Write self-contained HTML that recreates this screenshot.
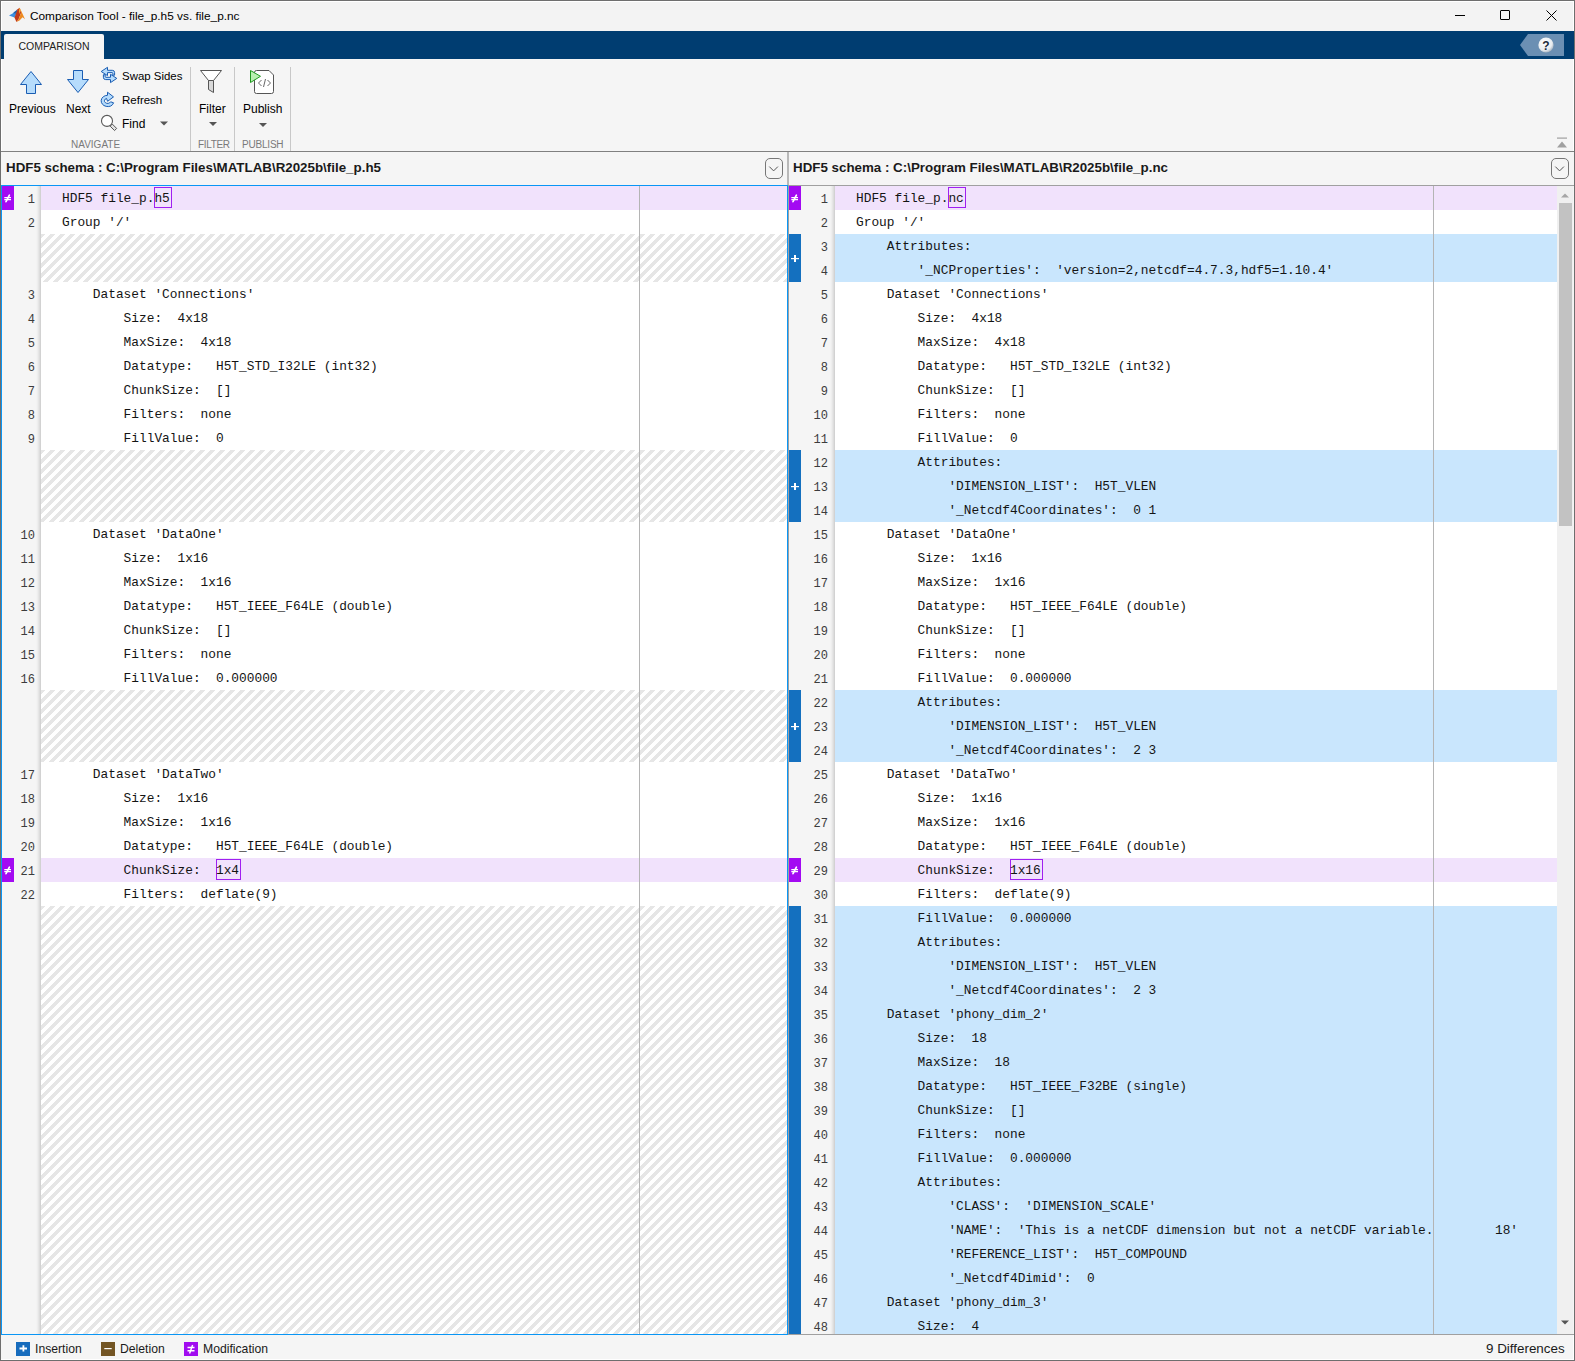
<!DOCTYPE html>
<html><head><meta charset="utf-8"><title>Comparison Tool</title>
<style>
*{margin:0;padding:0;box-sizing:border-box}
html,body{width:1575px;height:1361px;overflow:hidden;background:#f5f5f5}
body{position:relative;font-family:"Liberation Sans",sans-serif;color:#000}
.a{position:absolute}
#win{position:absolute;left:0;top:0;width:1575px;height:1361px;border:1px solid #6e6e6e;background:#f5f5f5}
#title{position:absolute;left:1px;top:1px;width:1573px;height:30px;background:#f3f3f3}
#title .t{position:absolute;left:29px;top:8px;font-size:11.83px;color:#000;white-space:nowrap}
#strip{position:absolute;left:1px;top:31px;width:1573px;height:28px;background:#003d71}
#tab{position:absolute;left:4px;top:34px;width:100px;height:25px;background:#f5f5f5;border-radius:2px 2px 0 0;font-size:10.5px;color:#222;text-align:center;line-height:24px}
#tb{position:absolute;left:1px;top:59px;width:1573px;height:92px;background:#f5f5f5}
#tbline{position:absolute;left:1px;top:151px;width:1573px;height:1px;background:#808080}
.tbt{position:absolute;font-size:12px;color:#000;white-space:nowrap}
.sec{position:absolute;font-size:10px;color:#7a7a7a;white-space:nowrap;top:139px}
.vsep{position:absolute;top:67px;width:1px;height:84px;background:#c8c8c8}
.hdr{position:absolute;top:152px;height:33px;background:#f5f5f5}
.hdr .t{position:absolute;left:5px;top:8px;font-weight:bold;font-size:13.35px;white-space:nowrap;color:#1a1a1a}
.dd{top:158px}
.gut{position:absolute;top:186px;height:1148px;background:#f5f5f5}
.gsh{position:absolute;top:186px;height:1148px;width:5px;background:linear-gradient(to right,#f3f3f3 0 1px,#eeeeee 1px 2px,#e6e6e6 2px 3px,#dddddd 3px 4px,#d2d2d2 4px 5px)}
.txt{position:absolute;top:186px;height:1148px;background:#fff}
.hatch{position:absolute;background:repeating-linear-gradient(135deg,#e6e6e6 0px,#e6e6e6 2.83px,#fff 2.83px,#fff 6.58px,#e6e6e6 6.58px,#e6e6e6 7.0711px)}
.rowbg{position:absolute;height:24px}
.rowbg.mod{background:#f1e2fc}
.rowbg.ins{background:#c9e6fd}
.ln{position:absolute;height:24px;line-height:29px;text-align:right;font-family:"Liberation Mono",monospace;font-size:12px;color:#3c3c3c}
.code{position:absolute;height:24px;line-height:26px;font-family:"Liberation Mono",monospace;font-size:12.83px;white-space:pre;color:#141414}
.box{position:absolute;height:21px;border:1px solid #a020f0}
.mk{position:absolute;width:12px}
.mk.mod{background:#a30af2}
.mk.ins{background:#1470bf}
.guide{position:absolute;top:186px;height:1148px;width:1px;background:#b4b4b4}
#status{position:absolute;left:1px;top:1335px;width:1573px;height:24px;background:#f5f5f5}
.st{position:absolute;top:1342px;font-size:12.2px;color:#1a1a1a;white-space:nowrap}
.sti{position:absolute;top:1342px;width:14px;height:14px}
.sti svg{display:block}
.tbt.sm{font-size:11.45px}

.clip{position:absolute;top:186px;height:1148px;overflow:hidden}

</style></head>
<body>
<div id="win"></div>
<div id="title">
  <svg class="a" style="left:-1px;top:-1px" width="30" height="30" viewBox="0 0 30 30">
    <path d="M9 15.6 L13 13.2 L15.2 11.2 L17 12.8 L14.5 17.6 Z" fill="#3a8ee0"/>
    <path d="M13 13.2 L15.2 11.2 L17.6 9.2 L16.5 13.5 Z" fill="#1f5fa8"/>
    <path d="M14.5 17.6 L17.6 9.2 L19.6 7.8 L21.2 12.5 L18.5 19.5 L16.4 22 Z" fill="#c0391a"/>
    <path d="M19.6 7.8 L21.5 11.5 L25 19.2 L22.6 17.2 L19.5 20.5 L16.4 22 L18.5 19.5 L21.2 12.5 Z" fill="#ee8a1e"/>
    <path d="M19.6 7.8 L20.6 10.2 L19.8 14 L18.8 11 Z" fill="#f5b030"/>
  </svg>
  <div class="t">Comparison Tool - file_p.h5 vs. file_p.nc</div>
  <div class="a" style="left:1454px;top:14px;width:10px;height:1px;background:#000"></div>
  <div class="a" style="left:1499px;top:9px;width:10px;height:10px;border:1px solid #000;border-radius:1px"></div>
  <svg class="a" style="left:1545px;top:9px" width="11" height="11" viewBox="0 0 11 11"><path d="M0.5 0.5 L10.5 10.5 M10.5 0.5 L0.5 10.5" stroke="#000" stroke-width="1"/></svg>
</div>
<div id="strip"></div>
<div id="tab">COMPARISON</div>
<svg class="a" style="left:1520px;top:34px" width="45" height="23" viewBox="0 0 45 23">
  <path d="M8 0 H44 V22 H8 L0 11 Z" fill="#6b8fb3"/>
  <defs><radialGradient id="hg" cx="0.4" cy="0.35" r="0.7"><stop offset="0" stop-color="#ffffff"/><stop offset="0.7" stop-color="#e8ecf0"/><stop offset="1" stop-color="#9aa8b6"/></radialGradient></defs>
  <circle cx="26" cy="11" r="7.6" fill="url(#hg)"/>
  <text x="26" y="15.5" text-anchor="middle" font-family="Liberation Sans" font-weight="bold" font-size="12" fill="#1d2b3c">?</text>
</svg>
<div id="tb"></div>
<div id="tbline"></div>
<!-- toolbar icons -->
<svg class="a" style="left:0;top:59px" width="300" height="92" viewBox="0 59 300 92">
  <!-- up arrow -->
  <path d="M31 71.5 L41.5 84.5 L35.5 84.5 L35.5 93.5 L26.5 93.5 L26.5 84.5 L20.5 84.5 Z" fill="#b6dcfc" stroke="#1a5db3" stroke-width="1" stroke-linejoin="miter"/>
  <!-- down arrow -->
  <path d="M73.5 70.5 L82.5 70.5 L82.5 79.5 L88.5 79.5 L78 92.5 L67.5 79.5 L73.5 79.5 Z" fill="#b6dcfc" stroke="#1a5db3" stroke-width="1"/>
  <!-- swap -->
  <path id="sw" d="M101.2 71.5 L107.5 67.3 L107.5 70.3 L112.3 70.3 Q114.6 70.3 114.6 72.6 L114.6 75.2 L112.8 75.2 L112.8 73.3 Q112.8 72.6 112.1 72.6 L107.5 72.6 L107.5 75.6 Z" fill="#b6dcfc" stroke="#1a5db3" stroke-width="1" stroke-linejoin="miter"/>
  <path d="M101.2 71.5 L107.5 67.3 L107.5 70.3 L112.3 70.3 Q114.6 70.3 114.6 72.6 L114.6 75.2 L112.8 75.2 L112.8 73.3 Q112.8 72.6 112.1 72.6 L107.5 72.6 L107.5 75.6 Z" transform="rotate(180 109 74.95)" fill="#b6dcfc" stroke="#1a5db3" stroke-width="1" stroke-linejoin="miter"/>
  <!-- refresh -->
  <path d="M107.5 92.2 L113.5 96.9 L107.6 101.3 L106.5 98.4 A3.2 2.6 0 1 0 110.6 101.8 L113.6 102.8 A6.4 5.6 0 1 1 107.5 95.3 Z" fill="#b6dcfc" stroke="#1a5db3" stroke-width="1" stroke-linejoin="round"/>
  <!-- find -->
  <path d="M112.26 124.04 L116.66 128.44 L114.54 130.56 L110.14 126.16 Z" fill="#e2e2e2" stroke="#555" stroke-width="1"/>
  <circle cx="107" cy="120.9" r="5.5" fill="#fff" stroke="#5a5a5a" stroke-width="1.1"/>
  <path d="M160 121.5 L168 121.5 L164 125.5 Z" fill="#555"/>
  <!-- filter -->
  <path d="M200.5 70.5 L221.5 70.5 L213.5 80.5 L208.5 80.5 Z" fill="#fff" stroke="#555" stroke-width="1" stroke-linejoin="round"/>
  <path d="M208.5 80.5 L213.5 80.5 L213.5 92.5 L208.5 89.5 Z" fill="#d8d8d8" stroke="#555" stroke-width="1" stroke-linejoin="round"/>
  <path d="M209 122 L217 122 L213 126 Z" fill="#555"/>
  <!-- publish -->
  <path d="M256.5 70.5 L269 70.5 L273.5 75 L273.5 91.5 Q273.5 93.5 271.5 93.5 L256.5 93.5 Q254.5 93.5 254.5 91.5 L254.5 72.5 Q254.5 70.5 256.5 70.5 Z" fill="#fff" stroke="#555" stroke-width="1"/>
  <path d="M261.5 80 L258.5 83 L261.5 86 M267.5 80 L270.5 83 L267.5 86 M265.5 79 L263.5 87" fill="none" stroke="#555" stroke-width="0.9"/>
  <path d="M250.5 70.5 L260.5 76.3 L250.5 82.5 Z" fill="#b8f0b0" stroke="#1e9a1e" stroke-width="1" stroke-linejoin="miter"/>
  <path d="M259 123 L267 123 L263 127 Z" fill="#555"/>
  <!-- collapse -->
  <path d="M1557 138.5 L1567 138.5" stroke="#a0a0a0" stroke-width="1"/>
</svg>
<svg class="a" style="left:1555px;top:136px" width="14" height="14" viewBox="0 0 14 14">
  <rect x="2" y="1.5" width="10" height="1.2" fill="#a0a0a0"/>
  <path d="M2 11.5 L12 11.5 L7 5.5 Z" fill="#a0a0a0"/>
</svg>
<!-- toolbar text -->
<div class="tbt" style="left:9px;top:102px">Previous</div>
<div class="tbt" style="left:66px;top:102px">Next</div>
<div class="tbt sm" style="left:122px;top:70px">Swap Sides</div>
<div class="tbt" style="left:122px;top:93.5px;font-size:11.5px">Refresh</div>
<div class="tbt" style="left:122px;top:117px">Find</div>
<div class="tbt" style="left:199px;top:102px">Filter</div>
<div class="tbt" style="left:243px;top:102px">Publish</div>
<div class="sec" style="left:71px">NAVIGATE</div>
<div class="sec" style="left:198px;letter-spacing:-0.35px">FILTER</div>
<div class="sec" style="left:242px;letter-spacing:-0.2px">PUBLISH</div>
<div class="vsep" style="left:190px"></div>
<div class="vsep" style="left:234px"></div>
<div class="vsep" style="left:290px"></div>
<!-- headers -->
<div class="hdr" style="left:1px;width:786px"><div class="t">HDF5 schema : C:\Program Files\MATLAB\R2025b\file_p.h5</div></div>
<div class="hdr" style="left:789px;width:784px"><div class="t" style="left:4px">HDF5 schema : C:\Program Files\MATLAB\R2025b\file_p.nc</div></div>
<svg class="a dd" style="left:765px" width="18" height="21" viewBox="0 0 18 21"><rect x="0.5" y="0.5" width="17" height="20" rx="4.5" fill="#f5f5f5" stroke="#777"/><path d="M4.3 8.6 L8.6 12.9 L12.9 8.6" fill="none" stroke="#555" stroke-width="1"/></svg>
<svg class="a dd" style="left:1551px" width="18" height="21" viewBox="0 0 18 21"><rect x="0.5" y="0.5" width="17" height="20" rx="4.5" fill="#f5f5f5" stroke="#777"/><path d="M4.3 8.6 L8.6 12.9 L12.9 8.6" fill="none" stroke="#555" stroke-width="1"/></svg>
<div class="a" style="left:787px;top:152px;width:2px;height:33px;background:#b9b9b9"></div>
<!-- left pane -->
<div class="a" style="left:1px;top:185px;width:787px;height:1150px;border:1px solid #0a96f5"></div>
<div class="gut" style="left:2px;width:39px"></div>
<div class="gsh" style="left:36px"></div>
<div class="txt" style="left:41px;width:746px"></div>
<div class="a" style="left:788px;top:185px;width:1px;height:1150px;background:#a0a0a0"></div>
<!-- right pane -->
<div class="a" style="left:789px;top:185px;width:785px;height:1px;background:#a0a0a0"></div>
<div class="a" style="left:789px;top:1334px;width:785px;height:1px;background:#a0a0a0"></div>
<div class="gut" style="left:789px;width:46px"></div>
<div class="gsh" style="left:830px"></div>
<div class="txt" style="left:835px;width:722px"></div>
<div class="a" style="left:1557px;top:186px;width:16px;height:1148px;background:#f0f0f0"></div>
<div class="a" style="left:1559px;top:203px;width:13px;height:323px;background:#c2c2c2"></div>
<svg class="a" style="left:1557px;top:190px" width="16" height="10" viewBox="0 0 16 10"><path d="M4 7.5 L12 7.5 L8 3.5 Z" fill="#a6a6a6"/></svg>
<svg class="a" style="left:1557px;top:1318px" width="16" height="10" viewBox="0 0 16 10"><path d="M4 2.5 L12 2.5 L8 6.5 Z" fill="#555"/></svg>
<div class="clip" style="left:2px;width:785px"><div class="a" style="left:-2px;top:-186px"><div class="rowbg mod" style="top:186px;left:41px;width:746px"></div>
<div class="ln" style="top:186px;left:2px;width:33px">1</div>
<div class="box" style="left:154px;top:187px;width:18px"></div>
<div class="code" style="top:186px;left:62.00px">HDF5 file_p.h5</div>
<div class="ln" style="top:210px;left:2px;width:33px">2</div>
<div class="code" style="top:210px;left:62.00px">Group &#x27;/&#x27;</div>
<div class="hatch" style="top:234px;height:48px;left:41px;width:746px"></div>
<div class="ln" style="top:282px;left:2px;width:33px">3</div>
<div class="code" style="top:282px;left:92.80px">Dataset &#x27;Connections&#x27;</div>
<div class="ln" style="top:306px;left:2px;width:33px">4</div>
<div class="code" style="top:306px;left:123.60px">Size:  4x18</div>
<div class="ln" style="top:330px;left:2px;width:33px">5</div>
<div class="code" style="top:330px;left:123.60px">MaxSize:  4x18</div>
<div class="ln" style="top:354px;left:2px;width:33px">6</div>
<div class="code" style="top:354px;left:123.60px">Datatype:   H5T_STD_I32LE (int32)</div>
<div class="ln" style="top:378px;left:2px;width:33px">7</div>
<div class="code" style="top:378px;left:123.60px">ChunkSize:  []</div>
<div class="ln" style="top:402px;left:2px;width:33px">8</div>
<div class="code" style="top:402px;left:123.60px">Filters:  none</div>
<div class="ln" style="top:426px;left:2px;width:33px">9</div>
<div class="code" style="top:426px;left:123.60px">FillValue:  0</div>
<div class="hatch" style="top:450px;height:72px;left:41px;width:746px"></div>
<div class="ln" style="top:522px;left:2px;width:33px">10</div>
<div class="code" style="top:522px;left:92.80px">Dataset &#x27;DataOne&#x27;</div>
<div class="ln" style="top:546px;left:2px;width:33px">11</div>
<div class="code" style="top:546px;left:123.60px">Size:  1x16</div>
<div class="ln" style="top:570px;left:2px;width:33px">12</div>
<div class="code" style="top:570px;left:123.60px">MaxSize:  1x16</div>
<div class="ln" style="top:594px;left:2px;width:33px">13</div>
<div class="code" style="top:594px;left:123.60px">Datatype:   H5T_IEEE_F64LE (double)</div>
<div class="ln" style="top:618px;left:2px;width:33px">14</div>
<div class="code" style="top:618px;left:123.60px">ChunkSize:  []</div>
<div class="ln" style="top:642px;left:2px;width:33px">15</div>
<div class="code" style="top:642px;left:123.60px">Filters:  none</div>
<div class="ln" style="top:666px;left:2px;width:33px">16</div>
<div class="code" style="top:666px;left:123.60px">FillValue:  0.000000</div>
<div class="hatch" style="top:690px;height:72px;left:41px;width:746px"></div>
<div class="ln" style="top:762px;left:2px;width:33px">17</div>
<div class="code" style="top:762px;left:92.80px">Dataset &#x27;DataTwo&#x27;</div>
<div class="ln" style="top:786px;left:2px;width:33px">18</div>
<div class="code" style="top:786px;left:123.60px">Size:  1x16</div>
<div class="ln" style="top:810px;left:2px;width:33px">19</div>
<div class="code" style="top:810px;left:123.60px">MaxSize:  1x16</div>
<div class="ln" style="top:834px;left:2px;width:33px">20</div>
<div class="code" style="top:834px;left:123.60px">Datatype:   H5T_IEEE_F64LE (double)</div>
<div class="rowbg mod" style="top:858px;left:41px;width:746px"></div>
<div class="ln" style="top:858px;left:2px;width:33px">21</div>
<div class="box" style="left:216px;top:859px;width:25px"></div>
<div class="code" style="top:858px;left:123.60px">ChunkSize:  1x4</div>
<div class="ln" style="top:882px;left:2px;width:33px">22</div>
<div class="code" style="top:882px;left:123.60px">Filters:  deflate(9)</div>
<div class="hatch" style="top:906px;height:480px;left:41px;width:746px"></div>
<div class="mk mod" style="top:186px;left:2px;height:24px"><svg class="a" style="left:0;top:0px" width="12" height="24" viewBox="0 0 12 24"><path d="M2.3 11.6 H9 M2.3 13.6 H9" stroke="#fff" stroke-width="1.15"/><path d="M7.4 9.2 L4 15.7" stroke="#fff" stroke-width="1.7" stroke-linecap="round"/></svg></div>
<div class="mk mod" style="top:858px;left:2px;height:24px"><svg class="a" style="left:0;top:0px" width="12" height="24" viewBox="0 0 12 24"><path d="M2.3 11.6 H9 M2.3 13.6 H9" stroke="#fff" stroke-width="1.15"/><path d="M7.4 9.2 L4 15.7" stroke="#fff" stroke-width="1.7" stroke-linecap="round"/></svg></div></div></div>
<div class="clip" style="left:789px;width:768px"><div class="a" style="left:-789px;top:-186px"><div class="rowbg mod" style="top:186px;left:835px;width:722px"></div>
<div class="ln" style="top:186px;left:789px;width:39px">1</div>
<div class="box" style="left:948px;top:187px;width:18px"></div>
<div class="code" style="top:186px;left:856.00px">HDF5 file_p.nc</div>
<div class="ln" style="top:210px;left:789px;width:39px">2</div>
<div class="code" style="top:210px;left:856.00px">Group &#x27;/&#x27;</div>
<div class="rowbg ins" style="top:234px;left:835px;width:722px"></div>
<div class="ln" style="top:234px;left:789px;width:39px">3</div>
<div class="code" style="top:234px;left:886.80px">Attributes:</div>
<div class="rowbg ins" style="top:258px;left:835px;width:722px"></div>
<div class="ln" style="top:258px;left:789px;width:39px">4</div>
<div class="code" style="top:258px;left:917.60px">&#x27;_NCProperties&#x27;:  &#x27;version=2,netcdf=4.7.3,hdf5=1.10.4&#x27;</div>
<div class="ln" style="top:282px;left:789px;width:39px">5</div>
<div class="code" style="top:282px;left:886.80px">Dataset &#x27;Connections&#x27;</div>
<div class="ln" style="top:306px;left:789px;width:39px">6</div>
<div class="code" style="top:306px;left:917.60px">Size:  4x18</div>
<div class="ln" style="top:330px;left:789px;width:39px">7</div>
<div class="code" style="top:330px;left:917.60px">MaxSize:  4x18</div>
<div class="ln" style="top:354px;left:789px;width:39px">8</div>
<div class="code" style="top:354px;left:917.60px">Datatype:   H5T_STD_I32LE (int32)</div>
<div class="ln" style="top:378px;left:789px;width:39px">9</div>
<div class="code" style="top:378px;left:917.60px">ChunkSize:  []</div>
<div class="ln" style="top:402px;left:789px;width:39px">10</div>
<div class="code" style="top:402px;left:917.60px">Filters:  none</div>
<div class="ln" style="top:426px;left:789px;width:39px">11</div>
<div class="code" style="top:426px;left:917.60px">FillValue:  0</div>
<div class="rowbg ins" style="top:450px;left:835px;width:722px"></div>
<div class="ln" style="top:450px;left:789px;width:39px">12</div>
<div class="code" style="top:450px;left:917.60px">Attributes:</div>
<div class="rowbg ins" style="top:474px;left:835px;width:722px"></div>
<div class="ln" style="top:474px;left:789px;width:39px">13</div>
<div class="code" style="top:474px;left:948.40px">&#x27;DIMENSION_LIST&#x27;:  H5T_VLEN</div>
<div class="rowbg ins" style="top:498px;left:835px;width:722px"></div>
<div class="ln" style="top:498px;left:789px;width:39px">14</div>
<div class="code" style="top:498px;left:948.40px">&#x27;_Netcdf4Coordinates&#x27;:  0 1</div>
<div class="ln" style="top:522px;left:789px;width:39px">15</div>
<div class="code" style="top:522px;left:886.80px">Dataset &#x27;DataOne&#x27;</div>
<div class="ln" style="top:546px;left:789px;width:39px">16</div>
<div class="code" style="top:546px;left:917.60px">Size:  1x16</div>
<div class="ln" style="top:570px;left:789px;width:39px">17</div>
<div class="code" style="top:570px;left:917.60px">MaxSize:  1x16</div>
<div class="ln" style="top:594px;left:789px;width:39px">18</div>
<div class="code" style="top:594px;left:917.60px">Datatype:   H5T_IEEE_F64LE (double)</div>
<div class="ln" style="top:618px;left:789px;width:39px">19</div>
<div class="code" style="top:618px;left:917.60px">ChunkSize:  []</div>
<div class="ln" style="top:642px;left:789px;width:39px">20</div>
<div class="code" style="top:642px;left:917.60px">Filters:  none</div>
<div class="ln" style="top:666px;left:789px;width:39px">21</div>
<div class="code" style="top:666px;left:917.60px">FillValue:  0.000000</div>
<div class="rowbg ins" style="top:690px;left:835px;width:722px"></div>
<div class="ln" style="top:690px;left:789px;width:39px">22</div>
<div class="code" style="top:690px;left:917.60px">Attributes:</div>
<div class="rowbg ins" style="top:714px;left:835px;width:722px"></div>
<div class="ln" style="top:714px;left:789px;width:39px">23</div>
<div class="code" style="top:714px;left:948.40px">&#x27;DIMENSION_LIST&#x27;:  H5T_VLEN</div>
<div class="rowbg ins" style="top:738px;left:835px;width:722px"></div>
<div class="ln" style="top:738px;left:789px;width:39px">24</div>
<div class="code" style="top:738px;left:948.40px">&#x27;_Netcdf4Coordinates&#x27;:  2 3</div>
<div class="ln" style="top:762px;left:789px;width:39px">25</div>
<div class="code" style="top:762px;left:886.80px">Dataset &#x27;DataTwo&#x27;</div>
<div class="ln" style="top:786px;left:789px;width:39px">26</div>
<div class="code" style="top:786px;left:917.60px">Size:  1x16</div>
<div class="ln" style="top:810px;left:789px;width:39px">27</div>
<div class="code" style="top:810px;left:917.60px">MaxSize:  1x16</div>
<div class="ln" style="top:834px;left:789px;width:39px">28</div>
<div class="code" style="top:834px;left:917.60px">Datatype:   H5T_IEEE_F64LE (double)</div>
<div class="rowbg mod" style="top:858px;left:835px;width:722px"></div>
<div class="ln" style="top:858px;left:789px;width:39px">29</div>
<div class="box" style="left:1010px;top:859px;width:33px"></div>
<div class="code" style="top:858px;left:917.60px">ChunkSize:  1x16</div>
<div class="ln" style="top:882px;left:789px;width:39px">30</div>
<div class="code" style="top:882px;left:917.60px">Filters:  deflate(9)</div>
<div class="rowbg ins" style="top:906px;left:835px;width:722px"></div>
<div class="ln" style="top:906px;left:789px;width:39px">31</div>
<div class="code" style="top:906px;left:917.60px">FillValue:  0.000000</div>
<div class="rowbg ins" style="top:930px;left:835px;width:722px"></div>
<div class="ln" style="top:930px;left:789px;width:39px">32</div>
<div class="code" style="top:930px;left:917.60px">Attributes:</div>
<div class="rowbg ins" style="top:954px;left:835px;width:722px"></div>
<div class="ln" style="top:954px;left:789px;width:39px">33</div>
<div class="code" style="top:954px;left:948.40px">&#x27;DIMENSION_LIST&#x27;:  H5T_VLEN</div>
<div class="rowbg ins" style="top:978px;left:835px;width:722px"></div>
<div class="ln" style="top:978px;left:789px;width:39px">34</div>
<div class="code" style="top:978px;left:948.40px">&#x27;_Netcdf4Coordinates&#x27;:  2 3</div>
<div class="rowbg ins" style="top:1002px;left:835px;width:722px"></div>
<div class="ln" style="top:1002px;left:789px;width:39px">35</div>
<div class="code" style="top:1002px;left:886.80px">Dataset &#x27;phony_dim_2&#x27;</div>
<div class="rowbg ins" style="top:1026px;left:835px;width:722px"></div>
<div class="ln" style="top:1026px;left:789px;width:39px">36</div>
<div class="code" style="top:1026px;left:917.60px">Size:  18</div>
<div class="rowbg ins" style="top:1050px;left:835px;width:722px"></div>
<div class="ln" style="top:1050px;left:789px;width:39px">37</div>
<div class="code" style="top:1050px;left:917.60px">MaxSize:  18</div>
<div class="rowbg ins" style="top:1074px;left:835px;width:722px"></div>
<div class="ln" style="top:1074px;left:789px;width:39px">38</div>
<div class="code" style="top:1074px;left:917.60px">Datatype:   H5T_IEEE_F32BE (single)</div>
<div class="rowbg ins" style="top:1098px;left:835px;width:722px"></div>
<div class="ln" style="top:1098px;left:789px;width:39px">39</div>
<div class="code" style="top:1098px;left:917.60px">ChunkSize:  []</div>
<div class="rowbg ins" style="top:1122px;left:835px;width:722px"></div>
<div class="ln" style="top:1122px;left:789px;width:39px">40</div>
<div class="code" style="top:1122px;left:917.60px">Filters:  none</div>
<div class="rowbg ins" style="top:1146px;left:835px;width:722px"></div>
<div class="ln" style="top:1146px;left:789px;width:39px">41</div>
<div class="code" style="top:1146px;left:917.60px">FillValue:  0.000000</div>
<div class="rowbg ins" style="top:1170px;left:835px;width:722px"></div>
<div class="ln" style="top:1170px;left:789px;width:39px">42</div>
<div class="code" style="top:1170px;left:917.60px">Attributes:</div>
<div class="rowbg ins" style="top:1194px;left:835px;width:722px"></div>
<div class="ln" style="top:1194px;left:789px;width:39px">43</div>
<div class="code" style="top:1194px;left:948.40px">&#x27;CLASS&#x27;:  &#x27;DIMENSION_SCALE&#x27;</div>
<div class="rowbg ins" style="top:1218px;left:835px;width:722px"></div>
<div class="ln" style="top:1218px;left:789px;width:39px">44</div>
<div class="code" style="top:1218px;left:948.40px">&#x27;NAME&#x27;:  &#x27;This is a netCDF dimension but not a netCDF variable.        18&#x27;</div>
<div class="rowbg ins" style="top:1242px;left:835px;width:722px"></div>
<div class="ln" style="top:1242px;left:789px;width:39px">45</div>
<div class="code" style="top:1242px;left:948.40px">&#x27;REFERENCE_LIST&#x27;:  H5T_COMPOUND</div>
<div class="rowbg ins" style="top:1266px;left:835px;width:722px"></div>
<div class="ln" style="top:1266px;left:789px;width:39px">46</div>
<div class="code" style="top:1266px;left:948.40px">&#x27;_Netcdf4Dimid&#x27;:  0</div>
<div class="rowbg ins" style="top:1290px;left:835px;width:722px"></div>
<div class="ln" style="top:1290px;left:789px;width:39px">47</div>
<div class="code" style="top:1290px;left:886.80px">Dataset &#x27;phony_dim_3&#x27;</div>
<div class="rowbg ins" style="top:1314px;left:835px;width:722px"></div>
<div class="ln" style="top:1314px;left:789px;width:39px">48</div>
<div class="code" style="top:1314px;left:917.60px">Size:  4</div>
<div class="mk mod" style="top:186px;left:789px;height:24px"><svg class="a" style="left:0;top:0px" width="12" height="24" viewBox="0 0 12 24"><path d="M2.3 11.6 H9 M2.3 13.6 H9" stroke="#fff" stroke-width="1.15"/><path d="M7.4 9.2 L4 15.7" stroke="#fff" stroke-width="1.7" stroke-linecap="round"/></svg></div>
<div class="mk ins" style="top:234px;left:789px;height:48px"><svg class="a" style="left:0;top:12px" width="12" height="24" viewBox="0 0 12 24"><rect x="5" y="9" width="2" height="7" fill="#fff"/><rect x="2" y="12" width="8" height="1.2" fill="#fff"/></svg></div>
<div class="mk ins" style="top:450px;left:789px;height:72px"><svg class="a" style="left:0;top:24px" width="12" height="24" viewBox="0 0 12 24"><rect x="5" y="9" width="2" height="7" fill="#fff"/><rect x="2" y="12" width="8" height="1.2" fill="#fff"/></svg></div>
<div class="mk ins" style="top:690px;left:789px;height:72px"><svg class="a" style="left:0;top:24px" width="12" height="24" viewBox="0 0 12 24"><rect x="5" y="9" width="2" height="7" fill="#fff"/><rect x="2" y="12" width="8" height="1.2" fill="#fff"/></svg></div>
<div class="mk mod" style="top:858px;left:789px;height:24px"><svg class="a" style="left:0;top:0px" width="12" height="24" viewBox="0 0 12 24"><path d="M2.3 11.6 H9 M2.3 13.6 H9" stroke="#fff" stroke-width="1.15"/><path d="M7.4 9.2 L4 15.7" stroke="#fff" stroke-width="1.7" stroke-linecap="round"/></svg></div>
<div class="mk ins" style="top:906px;left:789px;height:2376px"></div></div></div>
<div class="guide" style="left:639px"></div>
<div class="guide" style="left:1433px"></div>
<div id="status"></div>
<div class="sti" style="left:16px;background:#176cbd"><svg width="14" height="14" viewBox="0 0 14 14"><path d="M3.5 6.5 H11 M7.4 3.2 V9.6" stroke="#fff" stroke-width="1.8"/></svg></div>
<div class="st" style="left:35px">Insertion</div>
<div class="sti" style="left:101px;background:#735524"><svg width="14" height="14" viewBox="0 0 14 14"><path d="M3.3 6.6 H10.7" stroke="#fff" stroke-width="1.2"/></svg></div>
<div class="st" style="left:120px">Deletion</div>
<div class="sti" style="left:184px;background:#a10cf0"><svg width="14" height="14" viewBox="0 0 14 14"><path d="M3.5 5.5 H10.5 M3.5 8.8 H10.5 M8.6 3 L5.6 11.5" stroke="#fff" stroke-width="1.4"/></svg></div>
<div class="st" style="left:203px">Modification</div>
<div class="st" style="left:1486px;font-size:13.4px;top:1341px">9 Differences</div>
<div class="a" style="left:1px;top:1px;width:1573px;height:1px;background:#fff"></div>
<div class="a" style="left:1px;top:1px;width:1px;height:30px;background:#fff"></div>
<div class="a" style="left:1px;top:59px;width:1px;height:92px;background:#fff"></div>
<div class="a" style="left:1573px;top:1px;width:1px;height:30px;background:#fff"></div>
<div class="a" style="left:1573px;top:59px;width:1px;height:92px;background:#fff"></div>
<div class="a" style="left:1px;top:1359px;width:1573px;height:1px;background:#fff"></div>
<div class="a" style="left:1573px;top:1335px;width:1px;height:25px;background:#fff"></div>

</body></html>
